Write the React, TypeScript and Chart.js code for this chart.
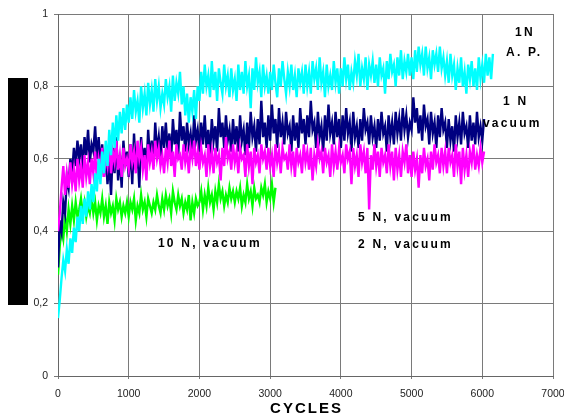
import React, { useEffect, useRef } from "react";
import { Chart, registerables } from "chart.js";

Chart.register(...registerables);

const CYCLE_STEP = 25;

const xTicks = [0, 1000, 2000, 3000, 4000, 5000, 6000, 7000];
const yTickLabels = ["0", "0,2", "0,4", "0,6", "0,8", "1"];

// 1N, A.P. (cyan)
const cyanValues = [
  0.16,0.21,0.27,0.32,0.29,0.35,0.31,0.38,0.34,0.41,0.37,0.44,0.40,0.47,0.42,0.49,0.44,0.51,0.46,0.53,
  0.48,0.56,0.51,0.60,0.53,0.62,0.56,0.65,0.58,0.68,0.61,0.70,0.63,0.72,0.65,0.73,0.67,0.74,0.68,0.75,
  0.70,0.77,0.71,0.79,0.73,0.76,0.70,0.80,0.74,0.78,0.72,0.81,0.75,0.79,0.73,0.82,0.76,0.80,0.74,0.78,
  0.75,0.82,0.77,0.80,0.73,0.83,0.76,0.81,0.78,0.84,0.75,0.80,0.72,0.78,0.70,0.77,0.73,0.79,0.71,0.80,
  0.76,0.84,0.78,0.86,0.80,0.83,0.77,0.87,0.79,0.84,0.76,0.85,0.81,0.78,0.86,0.80,0.83,0.77,0.85,0.79,
  0.82,0.76,0.86,0.79,0.84,0.78,0.87,0.80,0.83,0.74,0.85,0.79,0.88,0.81,0.84,0.77,0.86,0.80,0.83,0.78,
  0.84,0.79,0.86,0.81,0.77,0.85,0.80,0.87,0.82,0.78,0.84,0.80,0.86,0.79,0.83,0.77,0.85,0.81,0.84,0.78,
  0.86,0.80,0.84,0.78,0.87,0.82,0.85,0.79,0.88,0.81,0.84,0.77,0.86,0.80,0.83,0.79,0.87,0.81,0.85,0.78,
  0.85,0.80,0.88,0.82,0.86,0.79,0.84,0.81,0.87,0.83,0.89,0.80,0.85,0.82,0.88,0.79,0.86,0.83,0.87,0.81,
  0.86,0.80,0.88,0.83,0.85,0.78,0.87,0.82,0.89,0.84,0.86,0.80,0.88,0.83,0.90,0.82,0.87,0.84,0.89,0.83,
  0.88,0.82,0.90,0.84,0.91,0.86,0.89,0.83,0.91,0.85,0.88,0.82,0.90,0.86,0.89,0.84,0.91,0.85,0.88,0.83,
  0.87,0.81,0.89,0.83,0.86,0.79,0.85,0.81,0.88,0.80,0.84,0.78,0.86,0.82,0.87,0.80,0.85,0.79,0.88,0.82,
  0.86,0.81,0.89,0.83,0.88,0.82,0.89,
];

// 1 N, vacuum (navy)
const navyValues = [
  0.30,0.43,0.40,0.48,0.45,0.55,0.52,0.60,0.56,0.63,0.58,0.65,0.60,0.64,0.57,0.66,0.61,0.68,0.59,0.64,
  0.62,0.69,0.60,0.66,0.58,0.64,0.55,0.62,0.53,0.60,0.50,0.63,0.56,0.66,0.54,0.61,0.52,0.65,0.58,0.62,
  0.55,0.64,0.53,0.67,0.57,0.62,0.52,0.66,0.59,0.63,0.56,0.68,0.60,0.65,0.58,0.70,0.62,0.66,0.60,0.69,
  0.63,0.70,0.62,0.67,0.60,0.71,0.64,0.68,0.61,0.73,0.65,0.69,0.62,0.70,0.64,0.67,0.61,0.72,0.65,0.68,
  0.62,0.70,0.64,0.72,0.63,0.68,0.61,0.71,0.65,0.69,0.62,0.74,0.66,0.70,0.63,0.72,0.65,0.68,0.62,0.71,
  0.64,0.69,0.62,0.72,0.65,0.68,0.61,0.70,0.63,0.73,0.66,0.69,0.62,0.71,0.64,0.76,0.66,0.70,0.63,0.72,
  0.65,0.75,0.67,0.71,0.63,0.74,0.66,0.70,0.64,0.73,0.67,0.69,0.62,0.72,0.65,0.70,0.63,0.74,0.67,0.71,
  0.64,0.72,0.66,0.76,0.68,0.70,0.63,0.73,0.66,0.69,0.62,0.72,0.65,0.75,0.67,0.70,0.64,0.73,0.66,0.71,
  0.63,0.72,0.65,0.74,0.67,0.70,0.62,0.73,0.66,0.69,0.63,0.71,0.65,0.74,0.68,0.70,0.64,0.72,0.66,0.69,
  0.63,0.71,0.65,0.73,0.67,0.69,0.62,0.72,0.66,0.70,0.64,0.73,0.67,0.71,0.65,0.74,0.68,0.72,0.66,0.70,
  0.68,0.77,0.70,0.74,0.67,0.72,0.65,0.75,0.69,0.71,0.64,0.73,0.67,0.70,0.63,0.72,0.66,0.74,0.68,0.70,
  0.63,0.71,0.65,0.69,0.62,0.72,0.66,0.70,0.64,0.73,0.67,0.69,0.63,0.72,0.65,0.70,0.64,0.73,0.66,0.69,
  0.65,0.71,
];

// 5 N, vacuum (magenta)
const magentaValues = [
  0.40,0.45,0.52,0.58,0.50,0.56,0.52,0.59,0.53,0.57,0.51,0.60,0.54,0.58,0.52,0.61,0.55,0.59,0.53,0.60,
  0.56,0.62,0.54,0.60,0.57,0.63,0.55,0.61,0.58,0.64,0.56,0.62,0.59,0.65,0.57,0.61,0.55,0.63,0.58,0.60,
  0.57,0.64,0.59,0.62,0.56,0.65,0.60,0.63,0.57,0.61,0.54,0.64,0.59,0.62,0.57,0.65,0.60,0.63,0.58,0.61,
  0.56,0.63,0.59,0.65,0.58,0.62,0.55,0.64,0.60,0.61,0.57,0.64,0.59,0.62,0.56,0.63,0.60,0.65,0.58,0.62,
  0.57,0.63,0.59,0.61,0.55,0.64,0.58,0.62,0.56,0.63,0.59,0.61,0.54,0.63,0.58,0.66,0.60,0.62,0.57,0.64,
  0.59,0.62,0.56,0.63,0.60,0.61,0.55,0.64,0.58,0.62,0.53,0.63,0.59,0.61,0.56,0.64,0.60,0.62,0.57,0.63,
  0.58,0.61,0.55,0.64,0.59,0.62,0.56,0.63,0.60,0.61,0.57,0.64,0.58,0.62,0.55,0.63,0.59,0.61,0.56,0.64,
  0.59,0.62,0.57,0.63,0.54,0.61,0.58,0.64,0.60,0.62,0.56,0.63,0.59,0.61,0.55,0.64,0.58,0.62,0.57,0.63,
  0.59,0.61,0.56,0.64,0.60,0.62,0.53,0.63,0.58,0.61,0.55,0.64,0.59,0.62,0.56,0.63,0.46,0.61,0.57,0.64,
  0.58,0.62,0.55,0.63,0.59,0.61,0.56,0.64,0.58,0.62,0.54,0.63,0.57,0.61,0.55,0.62,0.59,0.64,0.56,0.61,
  0.55,0.62,0.57,0.60,0.52,0.61,0.56,0.63,0.58,0.60,0.54,0.62,0.57,0.64,0.59,0.61,0.56,0.63,0.58,0.62,
  0.56,0.63,0.59,0.61,0.55,0.64,0.58,0.62,0.53,0.63,0.57,0.61,0.55,0.62,0.59,0.64,0.57,0.61,0.58,0.63,
  0.59,0.62,
];

// 10 N, vacuum (green)
const greenValues = [
  0.28,0.36,0.41,0.38,0.44,0.40,0.46,0.42,0.47,0.43,0.48,0.44,0.46,0.49,0.45,0.48,0.44,0.47,0.45,0.49,
  0.45,0.48,0.43,0.47,0.45,0.49,0.44,0.47,0.42,0.48,0.45,0.47,0.43,0.49,0.46,0.48,0.44,0.47,0.45,0.48,
  0.44,0.48,0.46,0.49,0.43,0.47,0.45,0.50,0.46,0.48,0.44,0.49,0.47,0.45,0.48,0.46,0.50,0.47,0.45,0.49,
  0.46,0.50,0.47,0.49,0.45,0.51,0.48,0.46,0.50,0.47,0.49,0.45,0.48,0.46,0.50,0.43,0.48,0.45,0.49,0.47,
  0.48,0.51,0.46,0.50,0.47,0.52,0.48,0.50,0.46,0.51,0.48,0.53,0.49,0.51,0.47,0.50,0.48,0.52,0.49,0.51,
  0.48,0.51,0.49,0.52,0.47,0.50,0.48,0.53,0.49,0.51,0.47,0.52,0.49,0.50,0.48,0.52,0.50,0.53,0.48,0.51,
  0.49,0.53,0.48,0.52,
];

// in-plot labels (data coordinates: cycles, value)
const labelTexts = ["1N", "A. P.", "1 N", "vacuum", "5 N, vacuum", "2 N, vacuum", "10 N, vacuum"];
const labelCycles = [6463, 6336, 6293, 6010, 4243, 4243, 1414];
const labelValues = [0.947, 0.892, 0.757, 0.696, 0.436, 0.362, 0.365];

const xTitle = "CYCLES";

const toPoints = (vals: number[]) => vals.map((v, i) => ({ x: i * CYCLE_STEP, y: v }));

const FONT = "'Liberation Sans', Arial, sans-serif";

const overlayPlugin = {
  id: "overlay",
  afterDatasetsDraw(chart: any) {
    const ctx = chart.ctx;
    const xs = chart.scales.x;
    const ys = chart.scales.y;
    ctx.save();
    ctx.fillStyle = "#000";
    ctx.font = `bold 12px ${FONT}`;
    (ctx as any).letterSpacing = "2.2px";
    ctx.textAlign = "left";
    ctx.textBaseline = "middle";
    labelTexts.forEach((t, i) => {
      ctx.fillText(t, xs.getPixelForValue(labelCycles[i]), ys.getPixelForValue(labelValues[i]));
    });
    ctx.restore();
  },
  afterDraw(chart: any) {
    const ctx = chart.ctx;
    const area = chart.chartArea;
    ctx.save();
    // black box left of y axis
    ctx.fillStyle = "#000";
    ctx.fillRect(8, 78, 20, 227);
    // x axis title
    ctx.fillStyle = "#000";
    ctx.font = `bold 15px ${FONT}`;
    (ctx as any).letterSpacing = "2px";
    ctx.textAlign = "center";
    ctx.textBaseline = "middle";
    ctx.fillText(xTitle, (area.left + area.right) / 2 + 1, 409);
    ctx.restore();
  },
};

export default function App() {
  const ref = useRef<HTMLCanvasElement | null>(null);

  useEffect(() => {
    if (!ref.current) return;
    const gridColor = "#7a7a7a";
    const chart = new Chart(ref.current, {
      type: "line",
      data: {
        datasets: [
          { label: "1N A.P.", data: toPoints(cyanValues), borderColor: "#00ffff", order: 0 },
          { label: "5 N, vacuum", data: toPoints(magentaValues), borderColor: "#ff00ff", order: 1 },
          { label: "1 N vacuum", data: toPoints(navyValues), borderColor: "#000080", order: 2 },
          { label: "10 N, vacuum", data: toPoints(greenValues), borderColor: "#00ff00", order: 3 },
        ].map((d) => ({ ...d, borderWidth: 2.4, pointRadius: 0, tension: 0, fill: false })),
      },
      options: {
        animation: false,
        responsive: false,
        maintainAspectRatio: false,
        layout: { padding: { top: 14, right: 11, left: 0, bottom: 0 } },
        plugins: { legend: { display: false }, tooltip: { enabled: false } },
        scales: {
          x: {
            type: "linear",
            min: 0,
            max: 7000,
            afterBuildTicks: (s: any) => {
              s.ticks = xTicks.map((v) => ({ value: v }));
            },
            afterFit: (s: any) => {
              s.height = 42;
              s.paddingRight = 0;
              s.paddingLeft = 0;
            },
            grid: { color: gridColor, lineWidth: 1, tickLength: 3 },
            border: { color: "#666", width: 1 },
            ticks: {
              font: { family: FONT, size: 10.5 },
              color: "#222",
              padding: 9,
              maxRotation: 0,
              autoSkip: false,
              callback: (v: any) => String(v),
            },
          },
          y: {
            min: 0,
            max: 1,
            afterBuildTicks: (s: any) => {
              s.ticks = yTickLabels.map((_, i) => ({ value: i * 0.2 }));
            },
            afterFit: (s: any) => {
              s.width = 58;
            },
            grid: { color: gridColor, lineWidth: 1, tickLength: 4 },
            border: { color: "#666", width: 1 },
            ticks: {
              font: { family: FONT, size: 10.5 },
              color: "#222",
              padding: 6,
              autoSkip: false,
              callback: (_v: any, i: number) => yTickLabels[i],
            },
          },
        },
      },
      plugins: [overlayPlugin],
    });
    return () => chart.destroy();
  }, []);

  return (
    <div style={{ position: "absolute", left: 0, top: 0, width: 564, height: 418, background: "#fff" }}>
      <canvas ref={ref} width={564} height={418} style={{ display: "block" }} />
    </div>
  );
}
